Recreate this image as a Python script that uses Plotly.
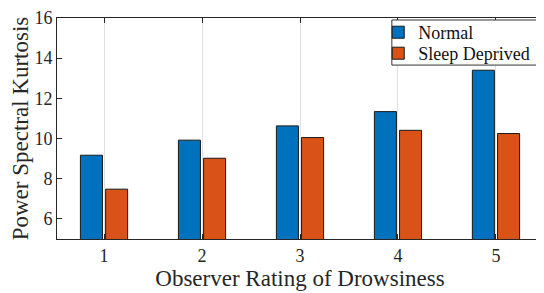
import plotly.graph_objects as go

categories = [1, 2, 3, 4, 5]
normal = [9.17, 9.92, 10.63, 11.34, 13.40]
sleep_deprived = [7.48, 9.02, 10.05, 10.41, 10.25]
series_names = ["Normal", "Sleep Deprived"]
y_ticks = [6, 8, 10, 12, 14, 16]

FONT = "Times New Roman, Liberation Serif, serif"
AX = "#262626"

fig = go.Figure()
fig.add_trace(go.Bar(x=categories, y=normal, name=series_names[0], legend="legend",
                     showlegend=True,
                     marker=dict(color="#0072BD", line=dict(color="#1a1a1a", width=1))))
fig.add_trace(go.Bar(x=categories, y=sleep_deprived, name=series_names[1], legend="legend2",
                     showlegend=True,
                     marker=dict(color="#D95319", line=dict(color="#1a1a1a", width=1))))

# legend frame (one box around both legend entries)
fig.add_shape(type="rect", xref="paper", yref="paper",
              x0=0.689, x1=0.994, y0=0.787, y1=0.991,
              line=dict(color="#333333", width=1), fillcolor="white", layer="above")

leg_common = dict(xanchor="left", yanchor="top", bgcolor="rgba(0,0,0,0)",
                  borderwidth=0, font=dict(family=FONT, size=18, color="#111111"),
                  itemwidth=30)

fig.update_layout(
    width=544, height=293,
    showlegend=True,
    margin=dict(l=49, r=9, t=10, b=62, autoexpand=False),
    paper_bgcolor="white", plot_bgcolor="white",
    barmode="group", bargap=0.486, bargroupgap=0.125,
    font=dict(family=FONT, size=18, color=AX),
    legend=dict(x=0.661, y=1.018, **leg_common),
    legend2=dict(x=0.661, y=0.923, **leg_common),
    xaxis=dict(range=[0.52, 5.48], tickmode="array", tickvals=categories,
               ticktext=[str(c) for c in categories],
               showgrid=True, gridcolor="#e0e0e0", gridwidth=1,
               ticks="inside", ticklen=5, tickcolor=AX, mirror="ticks",
               showline=True, linecolor=AX, linewidth=1, zeroline=False,
               automargin=False,
               title=dict(text="Observer Rating of Drowsiness", standoff=0,
                          font=dict(family=FONT, size=23, color=AX)),
               tickfont=dict(family=FONT, size=18, color=AX)),
    yaxis=dict(range=[5, 16], tickmode="array", tickvals=y_ticks,
               showgrid=False, zeroline=False,
               ticks="inside", ticklen=5, tickcolor=AX, mirror="ticks",
               showline=True, linecolor=AX, linewidth=1,
               automargin=False,
               title=dict(text="Power Spectral Kurtosis", standoff=11,
                          font=dict(family=FONT, size=23, color=AX)),
               tickfont=dict(family=FONT, size=18, color=AX)),
)

fig.write_html("out.html")
